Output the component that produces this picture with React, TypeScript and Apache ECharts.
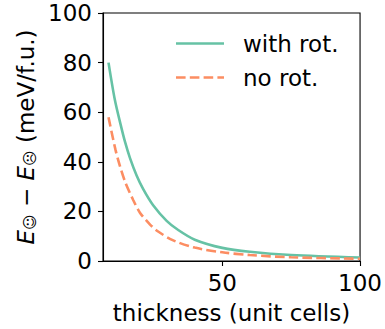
import React, { useEffect, useRef } from 'react';
import * as echarts from 'echarts';

const seriesNames = ['with rot.', 'no rot.'];
const withRotX = [8.7, 11, 13.1, 14.7, 16.5, 18.9, 21.3, 24.9, 29.8, 34, 40, 50, 60, 75, 100];
const withRotY = [80, 65, 55, 48, 41.5, 34.5, 29, 22.5, 16.2, 12.5, 8.6, 5.3, 3.7, 2.4, 1.4];
const noRotX = [8.7, 11.2, 12.8, 14.7, 17.7, 20.1, 23.7, 26.7, 32.2, 40, 50, 60, 75, 100];
const noRotY = [58, 45, 38.5, 32, 24.5, 19.5, 14.8, 11.9, 8.3, 5.4, 3.5, 2.4, 1.5, 0.9];
const xTicks = [50, 100];

const FONT = 'DejaVu Sans';
const FS = 23;
const TEAL = '#66c2a5';
const ORANGE = '#fc8d62';

export default function App() {
  const ref = useRef<HTMLDivElement>(null);
  useEffect(() => {
    const chart = echarts.init(ref.current!, null, { renderer: 'svg' });
    const gl = { left: 103, top: 13, width: 258, height: 255 };
    chart.setOption({
      animation: false,
      textStyle: { fontFamily: FONT },
      grid: { ...gl, show: true, borderColor: '#000', borderWidth: 1.1, backgroundColor: 'transparent' },
      xAxis: {
        type: 'value',
        min: 6.7,
        max: 100,
        name: 'thickness (unit cells)',
        nameLocation: 'middle',
        nameGap: 40,
        nameTextStyle: { fontSize: FS, color: '#000', fontFamily: FONT },
        splitLine: { show: false },
        axisLine: { show: true, lineStyle: { color: '#000', width: 1.1 } },
        axisTick: { show: true, customValues: xTicks, length: 5, lineStyle: { color: '#000', width: 1.1 } },
        axisLabel: { customValues: xTicks, fontSize: FS, color: '#000', margin: 10, fontFamily: FONT },
      },
      yAxis: {
        type: 'value',
        min: 0,
        max: 100,
        interval: 20,
        name: '{i|E}{s|☺} − {i|E}{s|☹} (meV/f.u.)',
        nameLocation: 'middle',
        nameGap: 62,
        nameTextStyle: {
          fontSize: FS,
          color: '#000',
          fontFamily: FONT,
          rich: {
            i: { fontSize: FS, fontStyle: 'italic', fontFamily: FONT, color: '#000' },
            s: { fontSize: 15, fontFamily: FONT, color: '#000', verticalAlign: 'bottom' },
          },
        },
        splitLine: { show: false },
        axisLine: { show: true, lineStyle: { color: '#000', width: 1.1 } },
        axisTick: { show: true, length: 5, lineStyle: { color: '#000', width: 1.1 } },
        axisLabel: { fontSize: FS, color: '#000', margin: 11, fontFamily: FONT },
      },
      series: [
        {
          name: seriesNames[0],
          type: 'line',
          data: withRotX.map((x, i) => [x, withRotY[i]]),
          showSymbol: false,
          smooth: 0.3,
          lineStyle: { color: TEAL, width: 2.6 },
        },
        {
          name: seriesNames[1],
          type: 'line',
          data: noRotX.map((x, i) => [x, noRotY[i]]),
          showSymbol: false,
          smooth: 0.3,
          lineStyle: { color: ORANGE, width: 2.6, type: [9.6, 4.2] },
        },
      ],
      graphic: [
        { type: 'line', shape: { x1: 176, y1: 43.5, x2: 224, y2: 43.5 }, style: { stroke: TEAL, lineWidth: 2.6 } },
        { type: 'text', x: 243, y: 43.5, style: { text: seriesNames[0], fontSize: FS, fontFamily: FONT, fill: '#000', verticalAlign: 'middle' } },
        { type: 'line', shape: { x1: 176, y1: 77.5, x2: 224, y2: 77.5 }, style: { stroke: ORANGE, lineWidth: 2.6, lineDash: [9.6, 4.2] } },
        { type: 'text', x: 243, y: 77.5, style: { text: seriesNames[1], fontSize: FS, fontFamily: FONT, fill: '#000', verticalAlign: 'middle' } },
      ],
    });
    return () => chart.dispose();
  }, []);
  return <div ref={ref} style={{ position: 'absolute', left: 0, top: 0, width: 385, height: 329 }} />;
}
